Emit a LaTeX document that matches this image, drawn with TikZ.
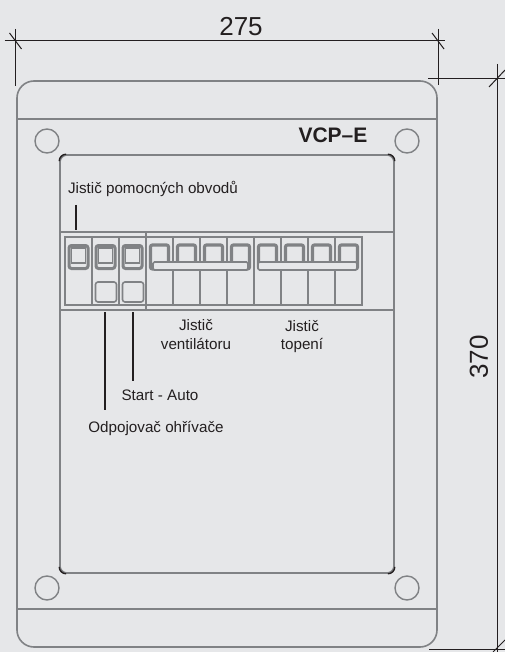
\documentclass[tikz,border=0pt]{standalone}
\usepackage{fontspec}
\setmainfont{Liberation Sans}
\usepackage{xcolor}
\usetikzlibrary{positioning}
\definecolor{back-c}{HTML}{E6E7E9}
\definecolor{line-c}{HTML}{808285}
\definecolor{dark-c}{HTML}{231F20}

\begin{document}
\begin{tikzpicture}
[
x=1pt, y=-1pt,
box-a/.style={draw=line-c, line width=1.6pt, rounded corners=17pt, minimum width=420pt, minimum height=566pt, inner sep=0pt},
box-b/.style={draw=line-c, line width=1.6pt, rounded corners=7pt, minimum width=334pt, minimum height=418pt, inner sep=0pt},
hole-a/.style={circle, draw=line-c, line width=1.4pt, minimum size=24pt, inner sep=0pt},
cell-a/.style={draw=line-c, line width=1.5pt, minimum width=27pt, minimum height=68pt, inner sep=0pt, outer sep=0pt},
lever-a/.style={draw=line-c, line width=3pt, rounded corners=2.5pt, minimum width=19pt, minimum height=23pt, inner sep=0pt},
lever-b/.style={draw=line-c, line width=1.2pt, minimum width=14pt, minimum height=15pt, inner sep=0pt},
lever-c/.style={draw=line-c, line width=3.2pt, rounded corners=2pt, minimum width=18pt, minimum height=24pt, inner sep=0pt},
bar-a/.style={draw=line-c, fill=back-c, line width=1.6pt, rounded corners=1.5pt, minimum height=8pt, inner sep=0pt},
knob-a/.style={draw=line-c, line width=1.6pt, rounded corners=2.5pt, minimum width=21pt, minimum height=20pt, inner sep=0pt},
line-a/.style={draw=line-c, line width=1.6pt},
line-b/.style={draw=dark-c, line width=1pt},
line-c/.style={draw=dark-c, line width=1.8pt},
text-a/.style={text=dark-c, font=\fontsize{15.2}{18.8}\selectfont, inner sep=0pt, align=center},
text-b/.style={text=dark-c, font=\fontsize{26}{30}\selectfont, inner sep=0pt}
]
\useasboundingbox (0,0) rectangle (505,652);
\fill[back-c] (0,0) rectangle (505,652);
% housing
\node (shell)    [box-a] at (227,364) {};
\node (panel)    [box-b] at (227,364) {};
\draw[line-a, line width=1.2pt] (shell.west |- 0,119) -- (shell.east |- 0,119);
\draw[line-a, line width=1.2pt] (shell.west |- 0,609) -- (shell.east |- 0,609);
\node (hole-nw)  [hole-a] at (47,141)  {};
\node (hole-ne)  [hole-a] at (407,141) {};
\node (hole-sw)  [hole-a] at (47,588)  {};
\node (hole-se)  [hole-a] at (407,588) {};
\draw[line-c, line width=1.4pt, rounded corners=7pt] ([yshift=-7pt]panel.north west) -- (panel.north west) -- ([xshift=7pt]panel.north west);
\draw[line-c, line width=1.4pt, rounded corners=7pt] ([xshift=-7pt]panel.north east) -- (panel.north east) -- ([yshift=-7pt]panel.north east);
\draw[line-c, line width=1.4pt, rounded corners=7pt] ([yshift=7pt]panel.south west) -- (panel.south west) -- ([xshift=7pt]panel.south west);
\draw[line-c, line width=1.4pt, rounded corners=7pt] ([xshift=-7pt]panel.south east) -- (panel.south east) -- ([yshift=7pt]panel.south east);
% rail
\draw[line-a, line width=2.6pt] (panel.west |- 0,232) -- (panel.east |- 0,232);
\draw[line-a, line width=2.4pt] (panel.west |- 0,310) -- (panel.east |- 0,310);
% breakers
\node (cell-1)  [cell-a] at (78.5,271)          {};
\node (cell-2)  [cell-a, right = 0pt of cell-1] {};
\node (cell-3)  [cell-a, right = 0pt of cell-2] {};
\node (cell-4)  [cell-a, right = 0pt of cell-3] {};
\node (cell-5)  [cell-a, right = 0pt of cell-4] {};
\node (cell-6)  [cell-a, right = 0pt of cell-5] {};
\node (cell-7)  [cell-a, right = 0pt of cell-6] {};
\node (cell-8)  [cell-a, right = 0pt of cell-7] {};
\node (cell-9)  [cell-a, right = 0pt of cell-8] {};
\node (cell-10) [cell-a, right = 0pt of cell-9] {};
\node (cell-11) [cell-a, right = 0pt of cell-10] {};
\draw[line-a] (cell-3.east |- 0,232) -- (cell-3.east |- 0,310);
\draw[line-a, line width=2pt] (cell-1.south west) -- (cell-3.south east);
\draw[line-a, line width=2pt] (cell-11.north east) -- (cell-11.south east) -- (cell-10.south east);
% levers
\node (lever-1)  [lever-a] at (78.5,257) {};
\node (lever-2)  [lever-a] at (105.5,257) {};
\node (lever-3)  [lever-a] at (132.5,257) {};
\node (inner-1)  [lever-b] at (78.5,255.5) {};
\node (inner-2)  [lever-b] at (105.5,255.5) {};
\node (inner-3)  [lever-b] at (132.5,255.5) {};
\node (lever-4)  [lever-c] at (159.5,257) {};
\node (lever-5)  [lever-c] at (186.5,257) {};
\node (lever-6)  [lever-c] at (213.5,257) {};
\node (lever-7)  [lever-c] at (240.5,257) {};
\node (lever-8)  [lever-c] at (267.5,257) {};
\node (lever-9)  [lever-c] at (294.5,257) {};
\node (lever-10) [lever-c] at (321.5,257) {};
\node (lever-11) [lever-c] at (348.5,257) {};
\node (bar-1)    [bar-a, minimum width=95pt] at (200.5,266) {};
\node (bar-2)    [bar-a, minimum width=99pt] at (307.5,266) {};
\node (knob-2)   [knob-a] at (106,292) {};
\node (knob-3)   [knob-a] at (133,292) {};
% labels
\node (title)     [text=dark-c, font=\bfseries\fontsize{21}{25}\selectfont, inner sep=0pt] at (333,135) {VCP--E};
\node (pomocne)   [text-a] at (153,189) {Jistič pomocných obvodů};
\node (ventilator)[text-a] at (196,334.5) {Jistič\\ventilátoru};
\node (topeni)    [text-a] at (302,336.5) {Jistič\\topení};
\node (start)     [text-a] at (160,395) {Start - Auto};
\node (odpojovac) [text-a] at (156,428) {Odpojovač ohřívače};
% leaders
\coordinate (lead-1a) at (76,205);
\coordinate (lead-1b) at (76,230);
\coordinate (lead-2a) at (105,312);
\coordinate (lead-2b) at (105,410);
\coordinate (lead-3a) at (133,312);
\coordinate (lead-3b) at (133,381);
\draw[line-c] (lead-1a) -- (lead-1b);
\draw[line-c] (lead-2a) -- (lead-2b);
\draw[line-c] (lead-3a) -- (lead-3b);
% dimensions
\coordinate (dim-wl) at (15.5,41);
\coordinate (dim-wr) at (438,41);
\coordinate (dim-ht) at (497,79);
\coordinate (dim-hb) at (497,649);
\draw[line-b] ([xshift=-11pt]dim-wl) -- ([xshift=7pt]dim-wr);
\draw[line-b] ([yshift=12pt]dim-wl) -- ([yshift=-45pt]dim-wl);
\draw[line-b] ([yshift=12pt]dim-wr) -- ([yshift=-44pt]dim-wr);
\draw[line-b] ([shift={(-6,-8)}]dim-wl) -- ([shift={(6,8)}]dim-wl);
\draw[line-b] ([shift={(-6,-8)}]dim-wr) -- ([shift={(6,8)}]dim-wr);
\draw[line-b] ([xshift=-69pt]dim-ht) -- ([xshift=8pt]dim-ht);
\draw[line-b] ([xshift=-68pt]dim-hb) -- ([xshift=8pt]dim-hb);
\draw[line-b] ([yshift=15pt]dim-ht) -- ([yshift=-3pt]dim-hb);
\draw[line-b] ([shift={(-8,8)}]dim-ht) -- ([shift={(8,-9)}]dim-ht);
\draw[line-b] ([shift={(-4,3)}]dim-hb) -- ([shift={(8,-9)}]dim-hb);
\node (width)  [text-b] at (241,27) {275};
\node (height) [text-b, rotate=90] at (479,357) {370};
\end{tikzpicture}
\end{document}
